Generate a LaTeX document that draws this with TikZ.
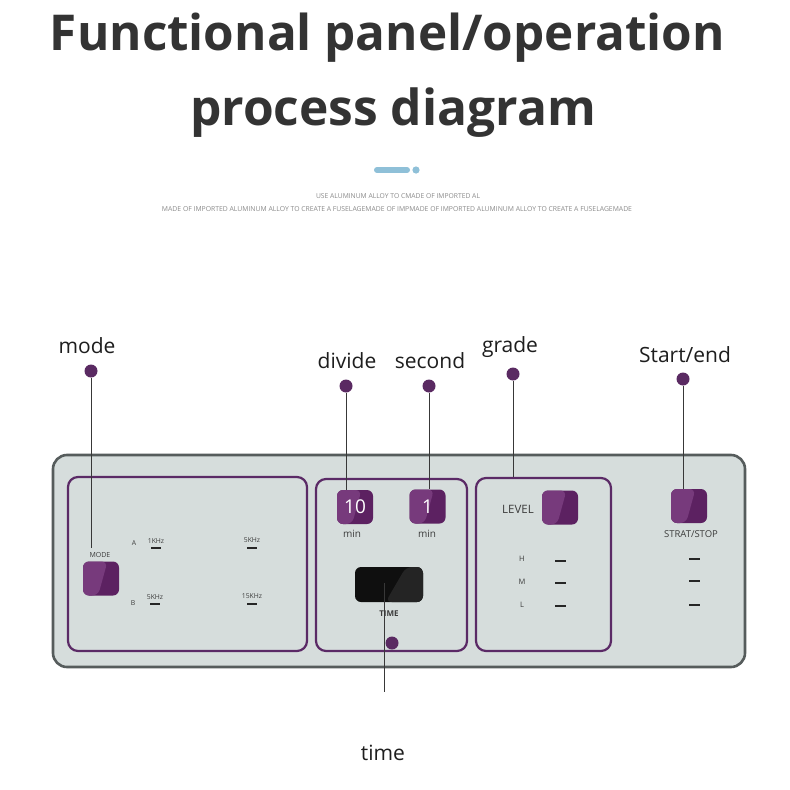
\documentclass[tikz,border=0pt]{standalone}
\usepackage{fontspec}
\setmainfont{Open Sans}
\newfontfamily\titlefont{Open Sans}
\newfontfamily\smallfont{Open Sans}
\usetikzlibrary{calc}
\definecolor{ink}{HTML}{333333}
\definecolor{labelink}{HTML}{1E1E1E}
\definecolor{pur}{HTML}{5C2161}
\definecolor{purl}{HTML}{773A7C}
\definecolor{panelfill}{HTML}{D6DDDC}
\definecolor{panelline}{HTML}{565C5C}
\definecolor{boxline}{HTML}{5B2A66}
\definecolor{pill}{HTML}{8FC0D8}
\definecolor{fine}{HTML}{8A8A8A}
\definecolor{dotc}{HTML}{5A2A62}
\definecolor{panelink}{HTML}{3C3C3C}
\tikzset{
  boxst/.style={draw=boxline, line width=2.2pt, rounded corners=10pt, inner sep=0},
  btn/.style={minimum width=36pt, minimum height=34pt, inner sep=0, rounded corners=6pt,
    fill=pur, text=white, font=\smallfont\fontsize{19}{19}\selectfont,
    path picture={\fill[purl] (path picture bounding box.south west)
      -- ($(path picture bounding box.south west)!0.42!(path picture bounding box.south east)$)
      -- ($(path picture bounding box.north west)!0.68!(path picture bounding box.north east)$)
      -- (path picture bounding box.north west) -- cycle;}},
  disp/.style={minimum width=68pt, minimum height=35pt, inner sep=0, rounded corners=6pt,
    fill=black!94,
    path picture={\fill[black!86] (path picture bounding box.south east)
      -- ($(path picture bounding box.south west)!0.45!(path picture bounding box.south east)$)
      -- ($(path picture bounding box.north west)!0.75!(path picture bounding box.north east)$)
      -- (path picture bounding box.north east) -- cycle;}},
  lbl/.style={anchor=base, inner sep=0, text=labelink, font=\fontsize{21}{21}\selectfont},
  tiny/.style={inner sep=0, text=panelink, font=\smallfont\fontsize{6.8}{6.8}\selectfont},
  small/.style={inner sep=0, text=panelink, font=\smallfont\fontsize{8}{8}\selectfont},
  dashmark/.style={draw=black!85, line width=1.5pt},
  dotst/.style={circle, fill=dotc, inner sep=0, minimum size=13pt},
  conn/.style={draw=black!78, line width=1pt},
}
\begin{document}
\begin{tikzpicture}[x=1pt,y=-1pt]
\useasboundingbox (0,0) rectangle (790,790);
\fill[white] (0,0) rectangle (790,790);

% title
\node[anchor=base, inner sep=0, text=ink] (t1) at (387.5,50)
  {\resizebox{675pt}{!}{\titlefont\bfseries\fontsize{50}{50}\selectfont Functional panel/operation}};
\node[anchor=base, inner sep=0, text=ink] (t2) at (393,125)
  {\resizebox{406pt}{!}{\titlefont\bfseries\fontsize{50}{50}\selectfont process diagram}};

% decoration pill
\draw[pill, line width=6pt, line cap=round] (377,170) -- (407,170);
\fill[pill] (416,170) circle (3.6);

% fine print
\node[inner sep=0, text=fine] (f1) at (398,196)
  {\resizebox{164pt}{!}{\smallfont\fontsize{6}{6}\selectfont USE ALUMINUM ALLOY TO CMADE OF IMPORTED AL}};
\node[inner sep=0, text=fine] (f2) at (397,209)
  {\resizebox{470pt}{!}{\smallfont\fontsize{6}{6}\selectfont MADE OF IMPORTED ALUMINUM ALLOY TO CREATE A FUSELAGEMADE OF IMPMADE OF IMPORTED ALUMINUM ALLOY TO CREATE A FUSELAGEMADE}};

% panel
\draw[panelline, line width=2.6pt, fill=panelfill, rounded corners=14pt] (53,455) rectangle (745,667);

% boxes
\node[boxst, minimum width=239pt, minimum height=174pt] (modebox) at (187.5,564) {};
\node[boxst, minimum width=151pt, minimum height=172pt] (timebox) at (391.5,565) {};
\node[boxst, minimum width=135pt, minimum height=173pt] (lvlbox) at (543.5,564.5) {};

% mode section
\node[btn] (bmode) at (101,578.5) {};
\node[small, font=\smallfont\fontsize{7}{7}\selectfont] (tmode) at (100,555) {MODE};
\node[tiny] (ta) at (134,543) {A};
\node[tiny] (tb) at (133,603) {B};
\node[tiny] (k1) at (156,541) {1KHz};
\node[tiny] (k5a) at (252,540) {5KHz};
\node[tiny] (k5b) at (155,597) {5KHz};
\node[tiny] (k15) at (252,596) {15KHz};
\draw[dashmark] (151,548) -- (161,548);
\draw[dashmark] (247,548) -- (257,548);
\draw[dashmark] (150,604) -- (160,604);
\draw[dashmark] (247,604) -- (257,604);

% time section
\node[btn] (b10) at (355,507) {10};
\node[btn] (b1) at (427.5,506.5) {1};
\node[small, font=\smallfont\fontsize{10}{10}\selectfont] (m1) at (352,534) {min};
\node[small, font=\smallfont\fontsize{10}{10}\selectfont] (m2) at (427,534) {min};
\node[disp] (tdisp) at (389,584.5) {};
\node[small, font=\smallfont\bfseries\fontsize{8}{8}\selectfont] (ttime) at (389,614) {TIME};

% level section
\node[btn] (blevel) at (560,507.5) {};
\node[small, font=\smallfont\fontsize{11.5}{11.5}\selectfont] (tlevel) at (518,509) {LEVEL};
\node[tiny, font=\smallfont\fontsize{7.5}{7.5}\selectfont] (th) at (522,559) {H};
\node[tiny, font=\smallfont\fontsize{7.5}{7.5}\selectfont] (tm) at (522,582) {M};
\node[tiny, font=\smallfont\fontsize{7.5}{7.5}\selectfont] (tl) at (522,605) {L};
\draw[dashmark] (555,561) -- (566,561);
\draw[dashmark] (555,583) -- (566,583);
\draw[dashmark] (555,606) -- (566,606);

% start/stop section
\node[btn] (bstart) at (689,506) {};
\node[small, font=\smallfont\fontsize{9.5}{9.5}\selectfont] (tstart) at (691,534) {STRAT/STOP};
\draw[dashmark] (689,559) -- (700,559);
\draw[dashmark] (689,581) -- (700,581);
\draw[dashmark] (689,605) -- (700,605);

% labels
\node[lbl] (lmode) at (87,353) {mode};
\node[lbl] (ldiv) at (347,368) {divide};
\node[lbl] (lsec) at (430,368) {second};
\node[lbl] (lgrade) at (510,352) {grade};
\node[lbl] (lstart) at (685,362) {Start/end};
\node[lbl] (ltime) at (383,760) {time};

% dots
\node[dotst] (dmode) at (91,371) {};
\node[dotst] (ddiv) at (346,386) {};
\node[dotst] (dsec) at (429,386) {};
\node[dotst] (dgrade) at (513,374) {};
\node[dotst] (dstart) at (683,379) {};

% connectors
\coordinate (modeend) at (91,548);
\draw[conn] (dmode) -- (modeend);
\draw[conn] (ddiv) -- (ddiv |- b10.north);
\draw[conn] (dsec) -- (dsec |- b1.north);
\draw[conn] (dgrade) -- (dgrade |- lvlbox.north);
\draw[conn] (dstart) -- (dstart |- bstart.north);
\coordinate (ttop) at (384,583);
\coordinate (tbot) at (384,692);
\node[dotst] (dtime) at (392,643) {};
\draw[conn] (ttop) -- (tbot);
\end{tikzpicture}
\end{document}
